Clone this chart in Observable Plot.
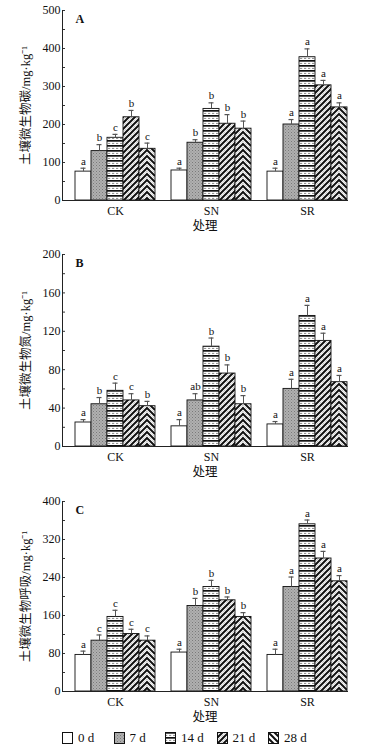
<!DOCTYPE html>
<html><head><meta charset="utf-8">
<script src="https://cdn.jsdelivr.net/npm/d3@7"></script>
<script src="https://cdn.jsdelivr.net/npm/@observablehq/plot@0.6"></script>
<style>
html,body{margin:0;padding:0;background:#fff;overflow:hidden;}
#legend{display:flex;height:22px;align-items:center;padding-left:62px;font-family:'Liberation Serif',serif;font-size:13px;color:#111}
.item{display:flex;align-items:center;width:51.5px}
.item svg{margin-right:5px;display:block}
</style></head>
<body>
<svg width="0" height="0" style="position:absolute"><defs id="pdefs"></defs></svg>
<div id="chart"></div>
<div id="legend"></div>
<script>
const groups = ["CK", "SN", "SR"];
const days = ["0 d", "7 d", "14 d", "21 d", "28 d"];

// A: soil microbial biomass carbon
const carbonMean = [[76, 130, 165, 219, 136], [79, 152, 241, 202, 189], [76, 200, 377, 303, 245]];
const carbonErr = [[9, 17, 9, 18, 15], [6, 8, 16, 24, 20], [9, 13, 22, 13, 12]];
const carbonLetters = [["a", "b", "c", "b", "c"], ["a", "b", "b", "b", "b"], ["a", "a", "a", "a", "a"]];

// B: soil microbial biomass nitrogen
const nitrogenMean = [[25, 44, 58, 48, 42], [21, 48, 104, 76, 44], [23, 60, 136, 110, 67]];
const nitrogenErr = [[3, 7, 8, 7, 5], [7, 7, 9, 9, 9], [3, 10, 11, 8, 7]];
const nitrogenLetters = [["a", "b", "c", "c", "b"], ["a", "ab", "b", "b", "b"], ["a", "a", "a", "a", "a"]];

// C: soil microbial respiration
const respMean = [[77, 107, 157, 121, 107], [82, 180, 220, 192, 157], [77, 220, 352, 280, 232]];
const respErr = [[8, 12, 14, 10, 10], [7, 16, 14, 7, 9], [12, 21, 9, 15, 12]];
const respLetters = [["a", "c", "c", "c", "c"], ["a", "b", "b", "b", "b"], ["a", "a", "a", "a", "a"]];

const titles = ["土壤微生物碳/mg·kg⁻¹", "土壤微生物氮/mg·kg⁻¹", "土壤微生物呼吸/mg·kg⁻¹"];
const panelLetters = ["A", "B", "C"];
const yMax = [500, 200, 400];
const yStep = [100, 40, 80];
const xTitle = "处理";

// ---- patterns ----
const defs = d3.select("#pdefs");
function pat(id, w, h) {
  return defs.append("pattern").attr("id", id).attr("patternUnits", "userSpaceOnUse")
    .attr("width", w).attr("height", h);
}
{
  const p = pat("p7", 3, 3);
  p.append("rect").attr("width", 3).attr("height", 3).attr("fill", "#b0b0b0");
  p.append("rect").attr("width", 1).attr("height", 1).attr("fill", "#7a7a7a");
  p.append("rect").attr("x", 1.5).attr("y", 1.5).attr("width", 1).attr("height", 1).attr("fill", "#8a8a8a");
}
{
  const p = pat("p14", 4, 5);
  p.append("rect").attr("width", 4).attr("height", 5).attr("fill", "#fff");
  p.append("rect").attr("width", 4).attr("height", 1.7).attr("fill", "#111");
  p.append("rect").attr("y", 2.9).attr("width", 2.2).attr("height", 1).attr("fill", "#8a8a8a");
}
{
  const p = pat("p21", 6, 6);
  p.append("rect").attr("width", 6).attr("height", 6).attr("fill", "#fff");
  p.append("path").attr("d", "M-1,7L7,-1M-4,4L4,-4M2,10L10,2").attr("stroke", "#111").attr("stroke-width", 2);
  p.append("path").attr("d", "M-2,5L5,-2M1,8L8,1").attr("stroke", "#9a9a9a").attr("stroke-width", 0.8).attr("stroke-dasharray", "1 1");
}
{
  const p = pat("p28L", 6, 6);
  p.append("rect").attr("width", 6).attr("height", 6).attr("fill", "#fff");
  p.append("path").attr("d", "M-1,-1L7,7M-4,2L4,10M2,-4L10,4").attr("stroke", "#111").attr("stroke-width", 2);
}
const chevron = pat("p28", 16, 6);

const fills = ["#fff", "url(#p7)", "url(#p14)", "url(#p21)", "url(#p28)"];

const keys = [];
groups.forEach((g, gi) => {
  if (gi > 0) keys.push("gap" + gi);
  days.forEach(d => keys.push(g + "|" + d));
});

function makeRows(means, errs, letters) {
  const out = [];
  groups.forEach((g, gi) => days.forEach((d, di) => out.push({
    key: g + "|" + d, group: g, day: d, mean: means[gi][di], err: errs[gi][di],
    top: means[gi][di] + errs[gi][di], letter: letters[gi][di]
  })));
  return out;
}

const W = 388, ML = 62, MR = 41;
const cjk = "'Liberation Serif','Noto Sans CJK SC',serif";

function panel(i, rows, height, marginTop, marginBottom) {
  const max = yMax[i], step = yStep[i];
  return Plot.plot({
    width: W, height, marginLeft: ML, marginRight: MR, marginTop, marginBottom,
    style: {fontFamily: "'Liberation Serif', serif", fontSize: "12px", color: "#111", overflow: "visible", background: "#fff"},
    x: {domain: keys, paddingInner: 0, paddingOuter: 0.2455, align: 1, axis: null},
    y: {domain: [0, max], axis: null},
    color: {domain: days, range: fills},
    marks: [
      Plot.barY(rows, {x: "key", y: "mean", fill: "day", stroke: "#111", strokeWidth: 0.9}),
      Plot.ruleX(rows, {x: "key", y1: "mean", y2: "top", stroke: "#555", strokeWidth: 1}),
      Plot.tickY(rows, {x: "key", y: "top", stroke: "#555", strokeWidth: 1.2, insetLeft: 5.5, insetRight: 5.5}),
      Plot.text(rows, {x: "key", y: "top", text: "letter", dy: -7, fontSize: 11}),
      Plot.ruleY(d3.range(0, max + 1, step / 2), {stroke: "#333", insetRight: W - ML - MR - 3}),
      Plot.frame({anchor: "left", stroke: "#222"}),
      Plot.frame({anchor: "bottom", stroke: "#222"}),
      Plot.axisY({ticks: d3.range(0, max + 1, step), tickSize: 0, tickPadding: 2, fontSize: 12, label: null}),
      Plot.axisX({ticks: groups.map(g => g + "|14 d"), tickFormat: d => d.split("|")[0], tickSize: 0, tickPadding: 6, fontSize: 12, label: null}),
      Plot.text([xTitle], {frameAnchor: "bottom", dy: 29.5, fontSize: 12.5, fontFamily: cjk}),
      Plot.text([titles[i]], {frameAnchor: "left", textAnchor: "middle", rotate: -90, dx: -37, fontSize: 12.5, fontFamily: cjk}),
      Plot.text([panelLetters[i]], {frameAnchor: "top-left", dx: 13, dy: 4, lineAnchor: "top", fontWeight: "bold", fontSize: 12})
    ]
  });
}

const pA = panel(0, makeRows(carbonMean, carbonErr, carbonLetters), 240, 10, 40);
const pB = panel(1, makeRows(nitrogenMean, nitrogenErr, nitrogenLetters), 250, 14, 44);
const pC = panel(2, makeRows(respMean, respErr, respLetters), 237, 11, 36);

// chevron pattern aligned to the bands
const xs = pA.scale("x");
const bw = xs.bandwidth;
const x0 = xs.apply("CK|0 d");
chevron.attr("width", bw).attr("x", x0);
chevron.append("rect").attr("width", bw).attr("height", 6).attr("fill", "#fff");
let dpath = "", gpath = "";
for (let k = -3; k <= 4; k++) {
  dpath += `M0,${bw / 2 + 6 * k}L${bw / 2},${6 * k}L${bw},${bw / 2 + 6 * k}`;
  gpath += `M0,${bw / 2 + 6 * k + 3}L${bw / 2},${6 * k + 3}L${bw},${bw / 2 + 6 * k + 3}`;
}
chevron.append("path").attr("d", gpath).attr("fill", "none").attr("stroke", "#9a9a9a").attr("stroke-width", 0.8).attr("stroke-dasharray", "1 1");
chevron.append("path").attr("d", dpath).attr("fill", "none").attr("stroke", "#111").attr("stroke-width", 2);

const chart = document.getElementById("chart");
chart.append(pA, pB, pC);

// legend
const legendFills = ["#fff", "url(#p7)", "url(#p14)", "url(#p21)", "url(#p28L)"];
const lg = d3.select("#legend");
days.forEach((d, i) => {
  const it = lg.append("div").attr("class", "item");
  const s = it.append("svg").attr("width", 11).attr("height", 12);
  s.append("rect").attr("x", 0.5).attr("y", 0.5).attr("width", 10).attr("height", 11)
    .attr("fill", legendFills[i]).attr("stroke", "#111").attr("stroke-width", 1);
  it.append("span").text(d);
});
</script>
</body></html>
